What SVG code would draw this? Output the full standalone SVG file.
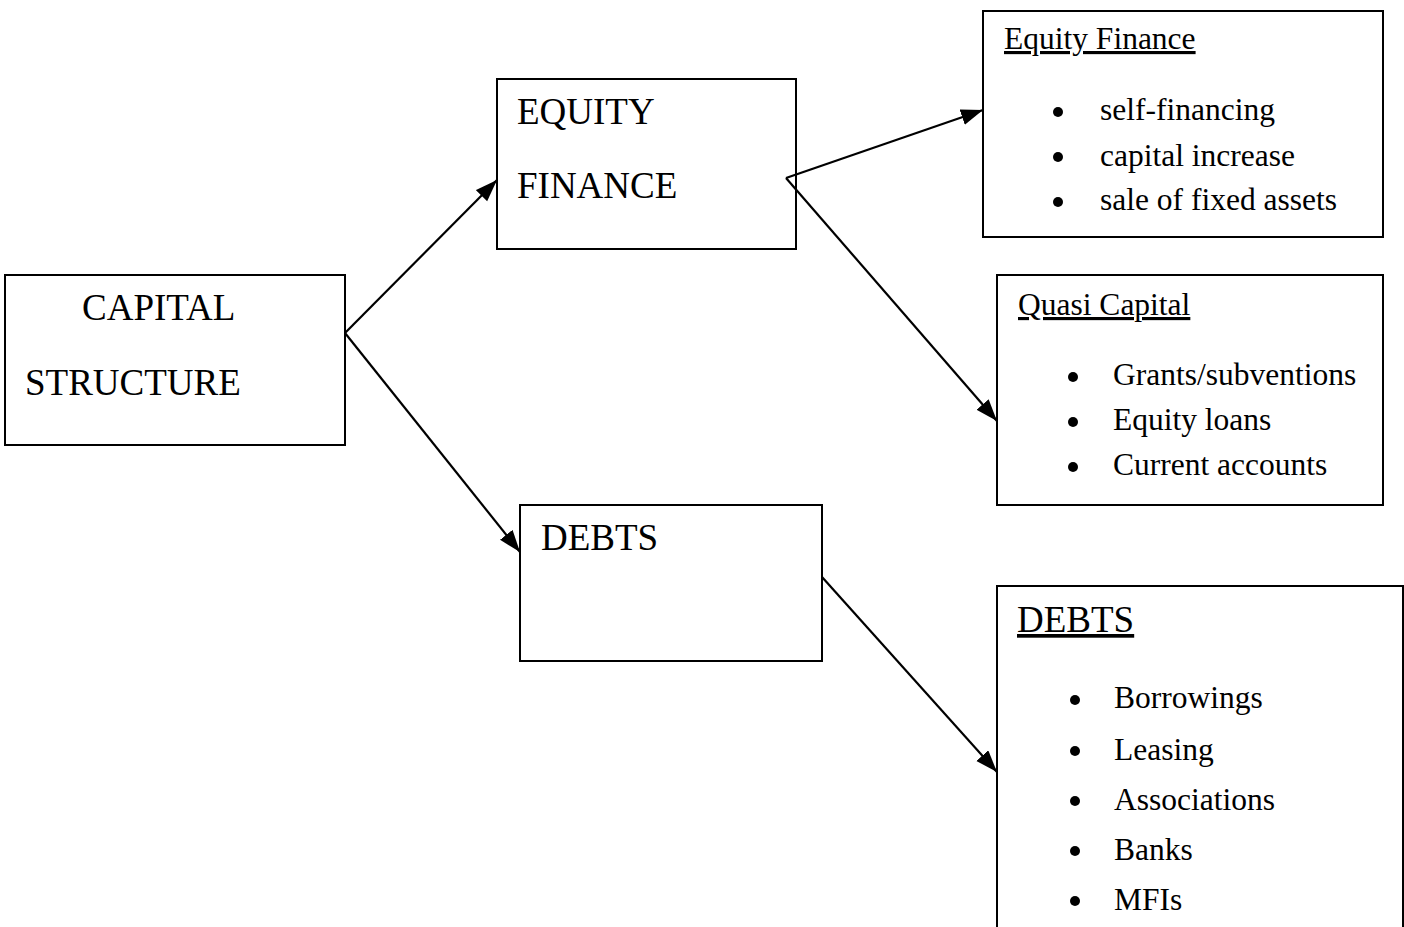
<svg xmlns="http://www.w3.org/2000/svg" width="1404" height="927" viewBox="0 0 1404 927">
<style>
  .box { fill: #fff; stroke: #000; stroke-width: 2; }
  .big { font-family: "Liberation Serif", "Times New Roman", serif; font-size: 37px; fill: #000; }
  .small { font-family: "Liberation Serif", "Times New Roman", serif; font-size: 31.5px; fill: #000; }
  .ul { text-decoration: underline; }
  .bul { fill: #000; }
  .conn { stroke: #000; stroke-width: 2.2; fill: none; marker-end: url(#arrow); }
</style>
<defs>
  <marker id="arrow" markerUnits="userSpaceOnUse" markerWidth="24" markerHeight="18" refX="22" refY="8" orient="auto">
    <path d="M0,0 L22,8 L0,16 z" fill="#000"/>
  </marker>
</defs>
<rect width="1404" height="927" fill="#fff"/>

<g id="capital-structure">
  <rect class="box" x="5" y="275" width="340" height="170"/>
  <text class="big" x="82" y="320">CAPITAL</text>
  <text class="big" x="25" y="395">STRUCTURE</text>
</g>

<g id="equity-finance">
  <rect class="box" x="497" y="79" width="299" height="170"/>
  <text class="big" x="517" y="124">EQUITY</text>
  <text class="big" x="517" y="198">FINANCE</text>
</g>

<g id="debts">
  <rect class="box" x="520" y="505" width="302" height="156"/>
  <text class="big" x="541" y="550">DEBTS</text>
</g>

<g id="equity-finance-list">
  <rect class="box" x="983" y="11" width="400" height="226"/>
  <text class="small ul" x="1004" y="49">Equity Finance</text>
  <circle class="bul" cx="1058" cy="112" r="5"/>
  <text class="small" x="1100" y="120">self-financing</text>
  <circle class="bul" cx="1058" cy="157" r="5"/>
  <text class="small" x="1100" y="166">capital increase</text>
  <circle class="bul" cx="1058" cy="202" r="5"/>
  <text class="small" x="1100" y="210">sale of fixed assets</text>
</g>

<g id="quasi-capital-list">
  <rect class="box" x="997" y="275" width="386" height="230"/>
  <text class="small ul" x="1018" y="315">Quasi Capital</text>
  <circle class="bul" cx="1073" cy="377" r="5"/>
  <text class="small" x="1113" y="385">Grants/subventions</text>
  <circle class="bul" cx="1073" cy="422" r="5"/>
  <text class="small" x="1113" y="430">Equity loans</text>
  <circle class="bul" cx="1073" cy="467" r="5"/>
  <text class="small" x="1113" y="475">Current accounts</text>
</g>

<g id="debts-list">
  <rect class="box" x="997" y="586" width="406" height="360"/>
  <text class="big ul" x="1017" y="632">DEBTS</text>
  <circle class="bul" cx="1075" cy="700" r="5"/>
  <text class="small" x="1114" y="708">Borrowings</text>
  <circle class="bul" cx="1075" cy="751" r="5"/>
  <text class="small" x="1114" y="760">Leasing</text>
  <circle class="bul" cx="1075" cy="801" r="5"/>
  <text class="small" x="1114" y="810">Associations</text>
  <circle class="bul" cx="1075" cy="851" r="5"/>
  <text class="small" x="1114" y="860">Banks</text>
  <circle class="bul" cx="1075" cy="901" r="5"/>
  <text class="small" x="1114" y="910">MFIs</text>
</g>

<g id="connectors">
  <path class="conn" d="M345,333 L497,180"/>
  <path class="conn" d="M345,333 L520,552"/>
  <path class="conn" d="M786,178 L983,110"/>
  <path class="conn" d="M786,178 L997,421"/>
  <path class="conn" d="M822,577 L997,772"/>
</g>
</svg>
